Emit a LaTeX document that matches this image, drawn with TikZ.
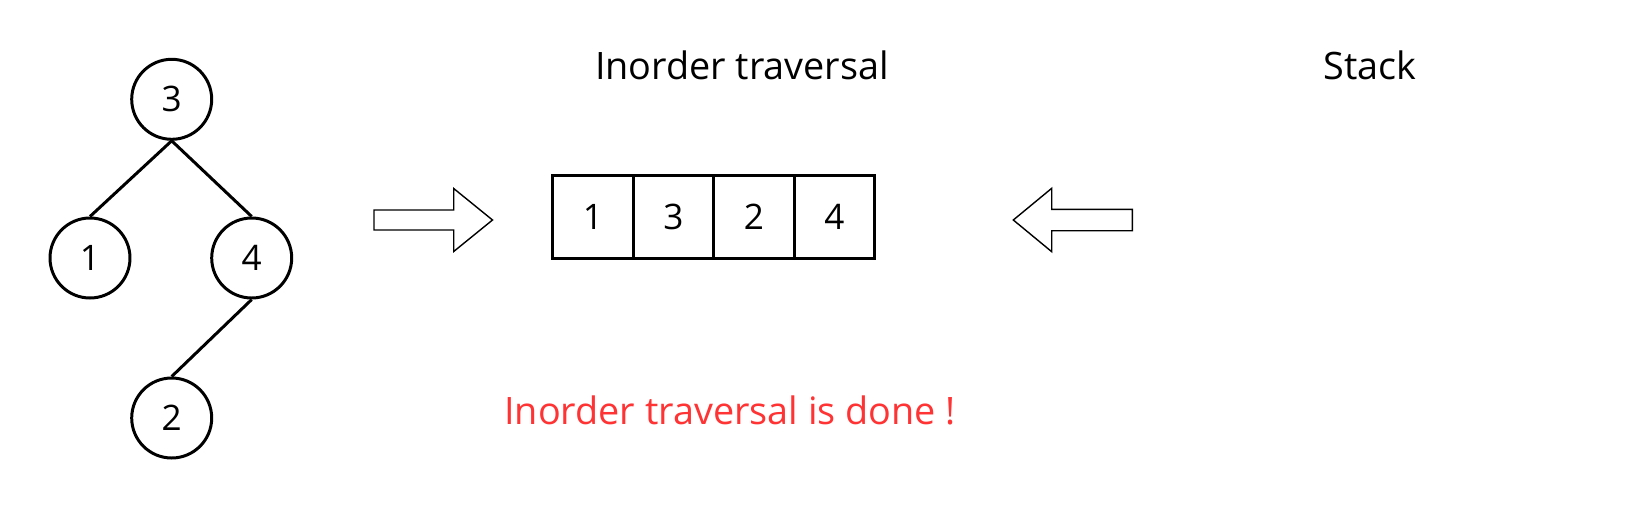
\documentclass[tikz,border=0pt]{standalone}
\usepackage{fontspec}
\setmainfont{Open Sans}
\begin{document}
\begin{tikzpicture}[x=0.2mm,y=-0.2mm,
		treenode/.style={draw,circle,line width=1.7pt,minimum size=16mm,inner sep=0pt,font=\fontsize{20}{24}\selectfont},
		cellbox/.style={draw,line width=1.7pt,minimum width=16.1mm,minimum height=16.6mm,inner sep=0pt,font=\fontsize{20}{24}\selectfont},
		title/.style={font=\fontsize{21.5}{26}\selectfont}]
		\useasboundingbox (0,0) rectangle (1648,510);
		%tree
		\node[treenode] (n3) at (171.7,99.3) {3};
		\node[treenode] (n1) at (90,258) {1};
		\node[treenode] (n4) at (251.7,258) {4};
		\node[treenode] (n2) at (171.7,418) {2};
		\draw[line width=1.7pt] (n3.south) -- (n1.north);
		\draw[line width=1.7pt] (n3.south) -- (n4.north);
		\draw[line width=1.7pt] (n4.south) -- (n2.north);
		%arrow to the result
		\draw[line width=0.8pt] (374,210) -- (453.7,210) -- (453.7,188.5) -- (492.5,220) -- (453.7,251.5) -- (453.7,230) -- (374,230) -- cycle;
		%result 1 3 2 4
		\node[title] (inorder) at (742,65) {Inorder traversal};
		\node[cellbox] (c1) at (593,217) {1};
		\node[cellbox] (c2) at (673.5,217) {3};
		\node[cellbox] (c3) at (754,217) {2};
		\node[cellbox] (c4) at (834.5,217) {4};
		%arrow from the stack
		\draw[line width=0.8pt] (1132.3,209.3) -- (1051.7,209.3) -- (1051.7,188.3) -- (1013.3,220) -- (1051.7,251.7) -- (1051.7,230.7) -- (1132.3,230.7) -- cycle;
		\node[title] (stack) at (1370,65) {Stack};
		\node[title,text=red!80!white] (done) at (730,410) {Inorder traversal is done !};
\end{tikzpicture}
\end{document}
